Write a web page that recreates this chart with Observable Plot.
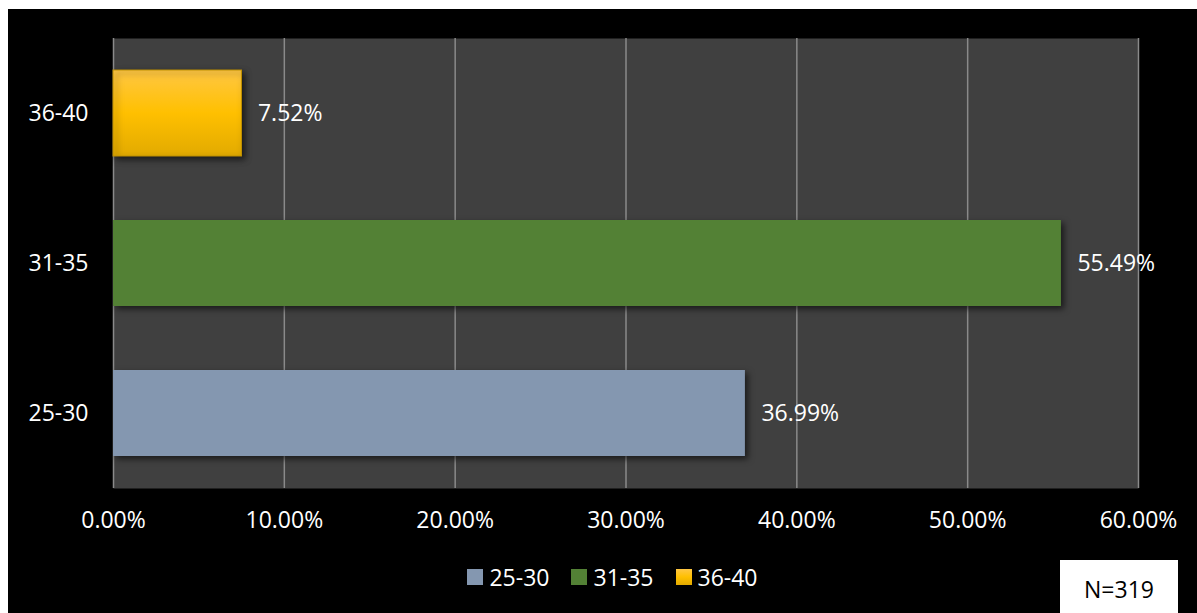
<!DOCTYPE html>
<html>
<head>
<meta charset="utf-8">
<script src="https://cdn.jsdelivr.net/npm/d3@7"></script>
<script src="https://cdn.jsdelivr.net/npm/@observablehq/plot@0.6"></script>
<style>
  html, body { margin: 0; padding: 0; background: #ffffff; width: 1197px; height: 613px; overflow: hidden; }
  #wrap { position: absolute; left: 8px; top: 9px; width: 1189px; height: 604px; background: #000000; font-family: "Open Sans", sans-serif; }
  #chart { position: absolute; left: 0; top: 0; }
  #chart svg g[aria-label="bar"] rect { filter: drop-shadow(3px 3px 3px rgba(0,0,0,0.6)); }
  #legend { position: absolute; top: 552px; left: 92px; width: 1025px; display: flex; justify-content: center; gap: 22px; color: #ffffff; font-size: 23px; }
  #legend .item { display: flex; align-items: center; gap: 6px; }
  #legend .sw { width: 16px; height: 16px; display: inline-block; flex: none; }
  #nbox { position: absolute; left: 1052px; top: 551px; width: 118px; height: 60px; background: #ffffff; color: #000000; font-size: 23px; display: flex; justify-content: center; padding-top: 13px; box-sizing: border-box; }
</style>
</head>
<body>
<div id="wrap">
  <div id="chart"></div>
  <div id="legend"></div>
  <div id="nbox">N=319</div>
</div>
<script>
const categories = ["25-30", "31-35", "36-40"];
const values = [36.99, 55.49, 7.52];
const seriesColors = ["#8497B0", "#538135", "url(#goldGrad)"];
const legendSwatches = ["#8497B0", "#538135", "#FFC000"];
const xTicks = [0, 10, 20, 30, 40, 50, 60];

const data = categories.map((c, i) => ({ category: c, value: values[i] }));

const plot = Plot.plot({
  width: 1189,
  height: 530,
  marginLeft: 105,
  marginRight: 59,
  marginTop: 29,
  marginBottom: 51,
  style: { background: "transparent", color: "#ffffff", fontFamily: "'Open Sans', sans-serif", fontSize: "23px" },
  x: { domain: [0, 60], ticks: xTicks, tickFormat: d => d.toFixed(2) + "%", tickSize: 0, tickPadding: 23, label: null },
  y: { domain: ["36-40", "31-35", "25-30"], paddingInner: 0.43, paddingOuter: 0.215, tickSize: 0, tickPadding: 25, label: null },
  color: { domain: categories, range: seriesColors },
  marks: [
    Plot.frame({ fill: "#404040", stroke: null }),
    Plot.gridX(xTicks, { stroke: "#8a8a8a", strokeOpacity: 1, strokeWidth: 1.5 }),
    Plot.barX(data, { x: "value", y: "category", fill: "category" }),
    Plot.barX(data, { filter: d => d.category === "36-40", x: "value", y: "category", fill: "none", stroke: "#BF9000", strokeWidth: 1 }),
    Plot.text(data, { x: "value", y: "category", text: d => d.value.toFixed(2) + "%", dx: 16, textAnchor: "start", fill: "#ffffff", fontSize: 23 })
  ]
});

const ns = "http://www.w3.org/2000/svg";
const defs = document.createElementNS(ns, "defs");
const grad = document.createElementNS(ns, "linearGradient");
grad.setAttribute("id", "goldGrad");
grad.setAttribute("x1", "0"); grad.setAttribute("y1", "0");
grad.setAttribute("x2", "0"); grad.setAttribute("y2", "1");
[["0%", "#FFC744"], ["50%", "#FFC000"], ["100%", "#E2AA00"]].forEach(([o, c]) => {
  const s = document.createElementNS(ns, "stop");
  s.setAttribute("offset", o); s.setAttribute("stop-color", c);
  grad.appendChild(s);
});
defs.appendChild(grad);
plot.insertBefore(defs, plot.firstChild);

document.getElementById("chart").appendChild(plot);

const legend = document.getElementById("legend");
categories.forEach((c, i) => {
  const item = document.createElement("div");
  item.className = "item";
  const sw = document.createElement("span");
  sw.className = "sw";
  sw.style.background = i === 2 ? "linear-gradient(#FFC744, #FFC000, #E2AA00)" : legendSwatches[i];
  const t = document.createElement("span");
  t.textContent = c;
  item.appendChild(sw); item.appendChild(t);
  legend.appendChild(item);
});
</script>
</body>
</html>
